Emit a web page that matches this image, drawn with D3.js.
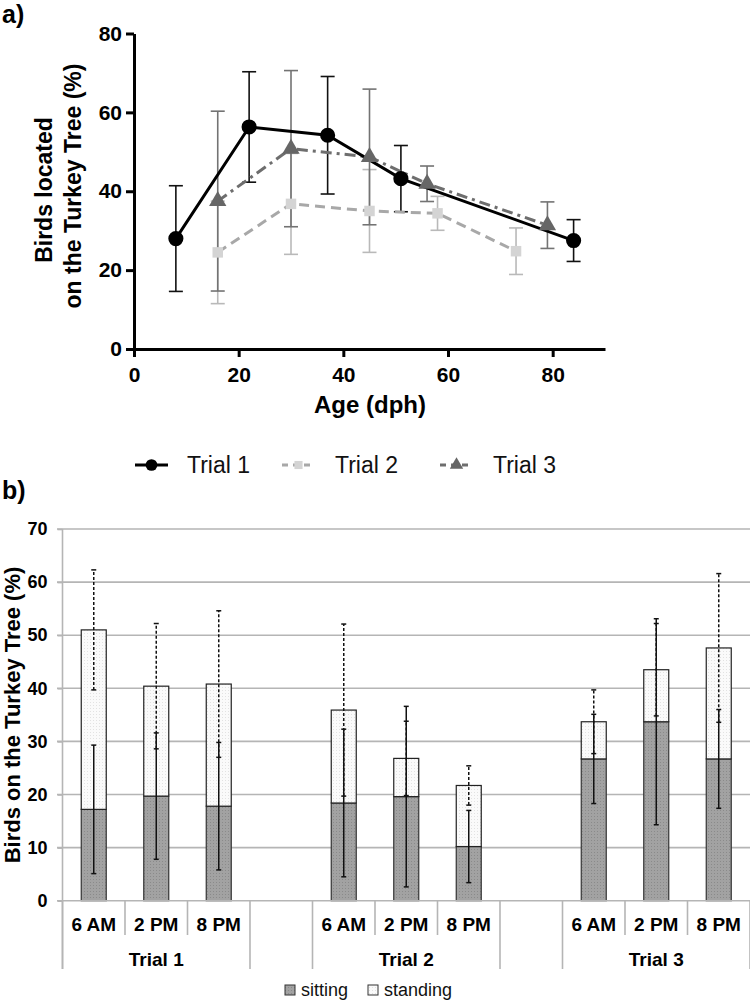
<!DOCTYPE html>
<html>
<head>
<meta charset="utf-8">
<script src="https://cdn.jsdelivr.net/npm/d3@7"></script>
<style>
  body { margin: 0; background: #fff; }
  svg { display: block; font-family: "Liberation Sans", Arial, sans-serif; }
</style>
</head>
<body>
<svg id="chart" width="750" height="1000"></svg>
<script>
// ---- panel a: birds on the tree by age ----
const ageT1 = [8, 22, 37, 51, 84];
const meanT1 = [28, 56.3, 54.2, 43.2, 27.5];
const errT1 = [13.4, 14, 14.9, 8.4, 5.3];

const ageT2 = [16, 30, 45, 58, 73];
const meanT2 = [24.5, 36.8, 35, 34.4, 24.8];
const errT2 = [13, 12.8, 10.5, 4.3, 5.9];

const ageT3 = [16, 30, 45, 56, 79];
const meanT3 = [37.5, 50.8, 48.7, 41.9, 31.4];
const errT3 = [22.8, 19.8, 17.2, 4.5, 5.9];

const ageTicks = [0, 20, 40, 60, 80];
const pctTicksA = [0, 20, 40, 60, 80];

// ---- panel b: sitting / standing by time of day ----
const trials = ['Trial 1', 'Trial 2', 'Trial 3'];
const times = ['6 AM', '2 PM', '8 PM'];
const sitting = [17.2, 19.7, 17.8, 18.4, 19.6, 10.2, 26.7, 33.7, 26.7];
const standing = [33.8, 20.7, 23.0, 17.5, 7.2, 11.5, 7.0, 9.8, 20.9];
const sittingErr = [12.1, 11.9, 12.0, 13.9, 17.0, 6.8, 8.4, 19.4, 9.3];
const standingErr = [11.3, 11.8, 13.8, 16.2, 7.0, 3.7, 6.0, 8.7, 14.0];
const pctTicksB = [0, 10, 20, 30, 40, 50, 60, 70];

const svg = d3.select('#chart');
const FONT = '"Liberation Sans", Arial, sans-serif';

// ================= panel a =================
const x = d3.scaleLinear().domain([0, 90]).range([134, 605]);
const y = d3.scaleLinear().domain([0, 80]).range([349, 33.5]);

svg.append('text').attr('x', 2).attr('y', 23)
  .attr('font-size', 25).attr('font-weight', 'bold').text('a)');

const series = [
  { name: 'Trial 1', age: ageT1, mean: meanT1, err: errT1, line: '#000', errColor: '#111',
    marker: '#000', symbol: d3.symbolCircle, size: 180, dash: null },
  { name: 'Trial 2', age: ageT2, mean: meanT2, err: errT2, line: '#a8a8a8', errColor: '#b9b9b9',
    marker: '#d4d4d4', symbol: d3.symbolSquare, size: 110, dash: '10,6' },
  { name: 'Trial 3', age: ageT3, mean: meanT3, err: errT3, line: '#6e6e6e', errColor: '#737373',
    marker: '#666', symbol: d3.symbolTriangle, size: 130, dash: '11,5,3,5' },
];
const drawOrder = [series[1], series[2], series[0]];

const plotA = svg.append('g');

// error bars
drawOrder.forEach((s) => {
  const pts = s.age.map((a, i) => ({ a, m: s.mean[i], e: s.err[i] }));
  const g = plotA.append('g').attr('stroke', s.errColor).attr('stroke-width', 1.6).attr('fill', 'none');
  g.selectAll('line.v').data(pts).join('line')
    .attr('x1', (d) => x(d.a)).attr('x2', (d) => x(d.a))
    .attr('y1', (d) => y(d.m - d.e)).attr('y2', (d) => y(d.m + d.e));
  [-1, 1].forEach((sgn) => {
    g.selectAll(null).data(pts).join('line')
      .attr('x1', (d) => x(d.a) - 7).attr('x2', (d) => x(d.a) + 7)
      .attr('y1', (d) => y(d.m + sgn * d.e)).attr('y2', (d) => y(d.m + sgn * d.e));
  });
});

// lines
drawOrder.forEach((s) => {
  const pts = s.age.map((a, i) => [a, s.mean[i]]);
  plotA.append('path')
    .attr('d', d3.line().x((d) => x(d[0])).y((d) => y(d[1]))(pts))
    .attr('fill', 'none').attr('stroke', s.line).attr('stroke-width', 3)
    .attr('stroke-dasharray', s.dash);
});

// markers
drawOrder.forEach((s) => {
  plotA.append('g').selectAll('path').data(s.age.map((a, i) => [a, s.mean[i]])).join('path')
    .attr('d', d3.symbol().type(s.symbol).size(s.size))
    .attr('transform', (d) => `translate(${x(d[0])},${y(d[1])})`)
    .attr('fill', s.marker);
});

// axes
const xAxisA = svg.append('g').attr('transform', `translate(0,${y(0)})`)
  .call(d3.axisBottom(x).tickValues(ageTicks).tickSize(8).tickPadding(9).tickSizeOuter(0));
const yAxisA = svg.append('g').attr('transform', `translate(${x(0)},0)`)
  .call(d3.axisLeft(y).tickValues(pctTicksA).tickSize(8).tickPadding(4).tickSizeOuter(0));
[xAxisA, yAxisA].forEach((g) => {
  g.select('.domain').attr('stroke', '#000').attr('stroke-width', 3);
  g.selectAll('.tick line').attr('stroke', '#000').attr('stroke-width', 3);
  g.selectAll('.tick text').attr('fill', '#000').attr('font-size', 21)
    .attr('font-weight', 'bold').attr('font-family', FONT);
});
xAxisA.selectAll('.tick text').attr('dy', '0.75em');

svg.append('text').attr('x', 370).attr('y', 413).attr('text-anchor', 'middle')
  .attr('font-size', 24).attr('font-weight', 'bold').text('Age (dph)');
svg.append('text').attr('transform', 'translate(52,190) rotate(-90)').attr('text-anchor', 'middle')
  .attr('font-size', 23).attr('font-weight', 'bold').text('Birds located');
svg.append('text').attr('transform', 'translate(81,186) rotate(-90)').attr('text-anchor', 'middle')
  .attr('font-size', 23).attr('font-weight', 'bold').text('on the Turkey Tree (%)');

// legend a
const legA = [
  { s: series[0], x0: 135, tx: 187 },
  { s: series[1], x0: 282, tx: 335 },
  { s: series[2], x0: 440, tx: 493 },
];
legA.forEach((l) => {
  const g = svg.append('g').attr('transform', 'translate(0,465)');
  g.append('line').attr('x1', l.x0).attr('x2', l.x0 + 33).attr('y1', 0).attr('y2', 0)
    .attr('stroke', l.s.line).attr('stroke-width', 3)
    .attr('stroke-dasharray', l.s.dash ? '6,5' : null);
  g.append('path').attr('d', d3.symbol().type(l.s.symbol).size(l.s.size * 0.6))
    .attr('transform', `translate(${l.x0 + 16.5},0)`).attr('fill', l.s.marker);
  g.append('text').attr('x', l.tx).attr('y', 8).attr('font-size', 23).attr('fill', '#111')
    .text(l.s.name);
});

// ================= panel b =================
svg.append('text').attr('x', 2).attr('y', 499)
  .attr('font-size', 25).attr('font-weight', 'bold').text('b)');

const defs = svg.append('defs');
const patSit = defs.append('pattern').attr('id', 'sit').attr('width', 3).attr('height', 3)
  .attr('patternUnits', 'userSpaceOnUse');
patSit.append('rect').attr('width', 3).attr('height', 3).attr('fill', '#a2a2a2');
patSit.append('rect').attr('width', 1).attr('height', 1).attr('fill', '#8a8a8a');
const patStand = defs.append('pattern').attr('id', 'stand').attr('width', 3).attr('height', 3)
  .attr('patternUnits', 'userSpaceOnUse');
patStand.append('rect').attr('width', 3).attr('height', 3).attr('fill', '#fafafa');
patStand.append('rect').attr('width', 1).attr('height', 1).attr('fill', '#e2e2e2');

// 11 slots: three times per trial with one empty slot between trials
const slots = [];
trials.forEach((t, ti) => {
  times.forEach((tm) => slots.push(`${t}|${tm}`));
  if (ti < trials.length - 1) slots.push(`gap${ti}`);
});
const xb = d3.scaleBand().domain(slots).range([62.5, 750]).padding(0);
const yb = d3.scaleLinear().domain([0, 70]).range([900.7, 529]);
const bw = xb.bandwidth();

const rows = [];
trials.forEach((t, ti) => times.forEach((tm, mi) => {
  const i = ti * 3 + mi;
  rows.push({ key: `${t}|${tm}`, trial: t, time: tm, sit: sitting[i], stand: standing[i],
    sitErr: sittingErr[i], standErr: standingErr[i] });
}));

// gridlines
svg.append('g').selectAll('line').data(pctTicksB.slice(1)).join('line')
  .attr('x1', 57).attr('x2', 750).attr('y1', (d) => yb(d)).attr('y2', (d) => yb(d))
  .attr('stroke', '#b5b5b5').attr('stroke-width', 1.6);

// y axis
const yAxisB = svg.append('g').attr('transform', 'translate(62.5,0)')
  .call(d3.axisLeft(yb).tickValues(pctTicksB).tickSize(5).tickPadding(10).tickSizeOuter(0));
yAxisB.select('.domain').remove();
yAxisB.selectAll('.tick line').attr('stroke', '#b5b5b5').attr('stroke-width', 1.6);
yAxisB.selectAll('.tick text').attr('fill', '#000').attr('font-size', 18)
  .attr('font-weight', 'bold').attr('font-family', FONT);
svg.append('line').attr('x1', 62.5).attr('x2', 62.5).attr('y1', yb(70)).attr('y2', 969)
  .attr('stroke', '#b5b5b5').attr('stroke-width', 1.6);

svg.append('text').attr('transform', 'translate(20,715) rotate(-90)').attr('text-anchor', 'middle')
  .attr('font-size', 22).attr('font-weight', 'bold').text('Birds on the Turkey Tree (%)');

// bars
const bars = svg.append('g');
bars.selectAll('rect.sit').data(rows).join('rect')
  .attr('x', (d) => xb(d.key) + bw * 0.3).attr('width', bw * 0.4)
  .attr('y', (d) => yb(d.sit)).attr('height', (d) => yb(0) - yb(d.sit))
  .attr('fill', 'url(#sit)').attr('stroke', '#333').attr('stroke-width', 1.2);
bars.selectAll('rect.stand').data(rows).join('rect')
  .attr('x', (d) => xb(d.key) + bw * 0.3).attr('width', bw * 0.4)
  .attr('y', (d) => yb(d.sit + d.stand)).attr('height', (d) => yb(d.sit) - yb(d.sit + d.stand))
  .attr('fill', 'url(#stand)').attr('stroke', '#222').attr('stroke-width', 1.2);

// baseline
svg.append('line').attr('x1', 57).attr('x2', 750).attr('y1', yb(0)).attr('y2', yb(0))
  .attr('stroke', '#b5b5b5').attr('stroke-width', 1.6);

// error bars: standing (dotted, around stack top) then sitting (solid)
function errBars(getC, getE, dash) {
  const g = svg.append('g').attr('stroke', '#111').attr('stroke-width', 1.5);
  g.selectAll('line.v').data(rows).join('line')
    .attr('x1', (d) => xb(d.key) + bw / 2).attr('x2', (d) => xb(d.key) + bw / 2)
    .attr('y1', (d) => yb(getC(d) - getE(d))).attr('y2', (d) => yb(getC(d) + getE(d)))
    .attr('stroke-dasharray', dash);
  [-1, 1].forEach((sgn) => {
    g.selectAll(null).data(rows).join('line')
      .attr('x1', (d) => xb(d.key) + bw / 2 - 2.5).attr('x2', (d) => xb(d.key) + bw / 2 + 2.5)
      .attr('y1', (d) => yb(getC(d) + sgn * getE(d))).attr('y2', (d) => yb(getC(d) + sgn * getE(d)));
  });
}
errBars((d) => d.sit + d.stand, (d) => d.standErr, '3,2');
errBars((d) => d.sit, (d) => d.sitErr, null);

// category axis: time labels and trial groups
const catAxis = svg.append('g');
rows.forEach((d) => {
  catAxis.append('text').attr('x', xb(d.key) + bw / 2).attr('y', 931)
    .attr('text-anchor', 'middle').attr('font-size', 19).attr('font-weight', 'bold').text(d.time);
});
trials.forEach((t) => {
  const x0 = xb(`${t}|${times[0]}`);
  const x1 = xb(`${t}|${times[2]}`) + bw;
  catAxis.append('text').attr('x', (x0 + x1) / 2).attr('y', 966)
    .attr('text-anchor', 'middle').attr('font-size', 19).attr('font-weight', 'bold').text(t);
  [x0, x1].forEach((xx) => catAxis.append('line').attr('x1', xx).attr('x2', xx)
    .attr('y1', yb(0)).attr('y2', 969).attr('stroke', '#b5b5b5').attr('stroke-width', 1.6));
  [1, 2].forEach((k) => {
    const xx = xb(`${t}|${times[k]}`);
    catAxis.append('line').attr('x1', xx).attr('x2', xx).attr('y1', yb(0)).attr('y2', 935)
      .attr('stroke', '#b5b5b5').attr('stroke-width', 1.6);
  });
});

// legend b
const legB = [
  { label: 'sitting', fill: 'url(#sit)', x0: 285 },
  { label: 'standing', fill: 'url(#stand)', x0: 368 },
];
legB.forEach((l) => {
  svg.append('rect').attr('x', l.x0).attr('y', 985).attr('width', 10).attr('height', 10)
    .attr('fill', l.fill).attr('stroke', '#333').attr('stroke-width', 1);
  svg.append('text').attr('x', l.x0 + 16).attr('y', 996).attr('font-size', 18).attr('fill', '#111')
    .text(l.label);
});
</script>
</body>
</html>
